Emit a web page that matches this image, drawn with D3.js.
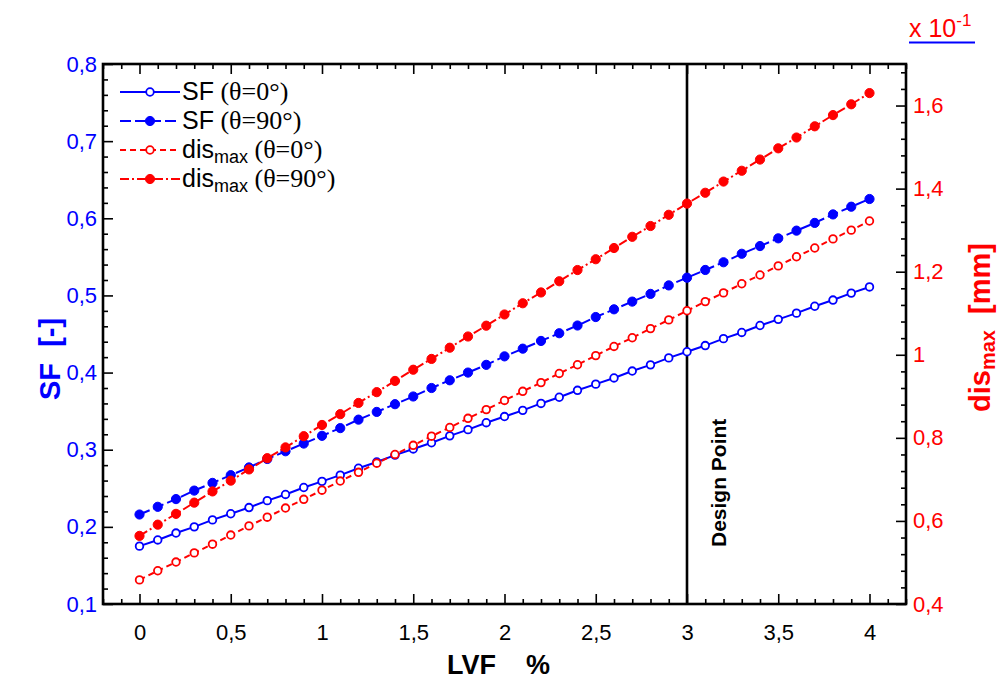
<!DOCTYPE html>
<html>
<head>
<meta charset="utf-8">
<script src="https://cdn.jsdelivr.net/npm/d3@7/dist/d3.min.js"></script>
<style>
  html, body { margin: 0; padding: 0; background: #fff; }
  svg { display: block; }
  text { font-family: "Liberation Sans", Arial, sans-serif; }
</style>
</head>
<body>
<svg id="chart" width="1001" height="682"></svg>
<script>
// LVF values (%)
const lvf = [0,0.1,0.2,0.3,0.4,0.5,0.6,0.7,0.8,0.9,1,1.1,1.2,1.3,1.4,1.5,1.6,1.7,1.8,1.9,2,
             2.1,2.2,2.3,2.4,2.5,2.6,2.7,2.8,2.9,3,3.1,3.2,3.3,3.4,3.5,3.6,3.7,3.8,3.9,4];

// Safety factor, theta = 0°
const sf0 = [0.175,0.183,0.192,0.200,0.209,0.217,0.225,0.234,0.242,0.251,0.259,0.267,0.276,0.284,
             0.293,0.301,0.309,0.318,0.326,0.335,0.343,0.351,0.360,0.368,0.377,0.385,0.393,0.402,
             0.410,0.419,0.427,0.435,0.444,0.452,0.461,0.469,0.477,0.486,0.494,0.503,0.511];
// Safety factor, theta = 90°
const sf90 = [0.216,0.226,0.236,0.247,0.257,0.267,0.277,0.288,0.298,0.308,0.318,0.328,0.339,0.349,
              0.359,0.369,0.380,0.390,0.400,0.410,0.421,0.431,0.441,0.451,0.461,0.472,0.482,0.492,
              0.502,0.513,0.523,0.533,0.543,0.554,0.564,0.574,0.584,0.594,0.605,0.615,0.625];
// Max displacement (x 10^-1 mm), theta = 0°
const dis0 = [0.458,0.480,0.501,0.523,0.544,0.566,0.588,0.609,0.631,0.652,0.674,0.696,0.717,0.739,
              0.760,0.782,0.804,0.825,0.847,0.868,0.890,0.912,0.933,0.955,0.976,0.998,1.020,1.041,
              1.063,1.084,1.106,1.128,1.149,1.171,1.192,1.214,1.236,1.257,1.279,1.300,1.322];
// Max displacement (x 10^-1 mm), theta = 90°
const dis90 = [0.564,0.591,0.617,0.644,0.671,0.697,0.724,0.751,0.777,0.804,0.831,0.857,0.884,0.910,
               0.937,0.964,0.990,1.017,1.044,1.070,1.097,1.124,1.150,1.177,1.204,1.230,1.257,1.284,
               1.310,1.337,1.364,1.390,1.417,1.443,1.470,1.497,1.523,1.550,1.577,1.603,1.630];

// Tick values and labels
const xMajor = [0,0.5,1,1.5,2,2.5,3,3.5,4];
const xMajorLabels = ["0","0,5","1","1,5","2","2,5","3","3,5","4"];
const yLeftMajor = [0.1,0.2,0.3,0.4,0.5,0.6,0.7,0.8];
const yLeftLabels = ["0,1","0,2","0,3","0,4","0,5","0,6","0,7","0,8"];
const yRightMajor = [0.4,0.6,0.8,1.0,1.2,1.4,1.6];
const yRightLabels = ["0,4","0,6","0,8","1","1,2","1,4","1,6"];
const designPoint = 3;

const BLUE = "#0000ff", RED = "#ff0000";
const SERIF = "'Liberation Serif', 'Times New Roman', serif";

const svg = d3.select("#chart");
const L = 103, R = 906, T = 64, B = 604;

const x = d3.scaleLinear().domain([-0.2, 4.2]).range([L, R]);
const yL = d3.scaleLinear().domain([0.1, 0.8]).range([B, T]);
const yR = d3.scaleLinear().domain([0.4, 1.7]).range([B, T]);

const fmt = (vals, labels) => v => labels[vals.findIndex(t => Math.abs(t - v) < 1e-9)];

const xMinor = d3.range(-2, 43).map(i => i / 10).filter(v => !xMajor.some(m => Math.abs(m - v) < 1e-9));
const yLMinor = d3.range(10, 81, 2).map(i => i / 100).filter(v => !yLeftMajor.some(m => Math.abs(m - v) < 1e-9));
const yRMinor = d3.range(40, 171, 4).map(i => i / 100).filter(v => !yRightMajor.some(m => Math.abs(m - v) < 1e-9));

function styleAxis(g, color) {
  g.select(".domain").remove();
  g.selectAll(".tick line").attr("stroke", "#000").attr("stroke-width", 1.6);
  g.selectAll(".tick text").attr("fill", color).style("font-size", "22px")
    .style("font-family", "'Liberation Sans', Arial, sans-serif");
}

// Bottom axis (ticks point inward)
svg.append("g").attr("transform", `translate(0,${B})`)
  .call(d3.axisBottom(x).tickValues(xMajor).tickSizeInner(-10).tickSizeOuter(0).tickPadding(20)
    .tickFormat(fmt(xMajor, xMajorLabels)))
  .call(g => styleAxis(g, "#000"));
svg.append("g").attr("transform", `translate(0,${B})`)
  .call(d3.axisBottom(x).tickValues(xMinor).tickSizeInner(-5).tickSizeOuter(0).tickFormat(""))
  .call(g => styleAxis(g, "#000"));
// Top axis
svg.append("g").attr("transform", `translate(0,${T})`)
  .call(d3.axisTop(x).tickValues(xMajor).tickSizeInner(-10).tickSizeOuter(0).tickFormat(""))
  .call(g => styleAxis(g, "#000"));
svg.append("g").attr("transform", `translate(0,${T})`)
  .call(d3.axisTop(x).tickValues(xMinor).tickSizeInner(-5).tickSizeOuter(0).tickFormat(""))
  .call(g => styleAxis(g, "#000"));
// Left axis (SF)
svg.append("g").attr("transform", `translate(${L},0)`)
  .call(d3.axisLeft(yL).tickValues(yLeftMajor).tickSizeInner(-10).tickSizeOuter(0).tickPadding(6)
    .tickFormat(fmt(yLeftMajor, yLeftLabels)))
  .call(g => styleAxis(g, BLUE));
svg.append("g").attr("transform", `translate(${L},0)`)
  .call(d3.axisLeft(yL).tickValues(yLMinor).tickSizeInner(-5).tickSizeOuter(0).tickFormat(""))
  .call(g => styleAxis(g, BLUE));
// Right axis (dis_max)
svg.append("g").attr("transform", `translate(${R},0)`)
  .call(d3.axisRight(yR).tickValues(yRightMajor).tickSizeInner(-10).tickSizeOuter(0).tickPadding(7)
    .tickFormat(fmt(yRightMajor, yRightLabels)))
  .call(g => styleAxis(g, RED));
svg.append("g").attr("transform", `translate(${R},0)`)
  .call(d3.axisRight(yR).tickValues(yRMinor).tickSizeInner(-5).tickSizeOuter(0).tickFormat(""))
  .call(g => styleAxis(g, RED));

// Frame
svg.append("rect").attr("x", L).attr("y", T).attr("width", R - L).attr("height", B - T)
  .attr("fill", "none").attr("stroke", "#000").attr("stroke-width", 2.6);

// Design point line and label
svg.append("line")
  .attr("x1", x(designPoint)).attr("x2", x(designPoint))
  .attr("y1", T).attr("y2", B)
  .attr("stroke", "#000").attr("stroke-width", 2.6);
svg.append("text")
  .attr("transform", `translate(${x(designPoint) + 39},547) rotate(-90)`)
  .style("font-size", "21px").style("font-weight", "bold").attr("fill", "#000")
  .text("Design Point");

// Series
const series = [
  { vals: sf0,  y: yL, color: BLUE, dash: null,       filled: false },
  { vals: sf90, y: yL, color: BLUE, dash: "11,4",     filled: true  },
  { vals: dis0, y: yR, color: RED,  dash: "6,4",      filled: false },
  { vals: dis90,y: yR, color: RED,  dash: "9,3,2,3",  filled: true  }
];

series.forEach(s => {
  const line = d3.line().x((d, i) => x(lvf[i])).y(d => s.y(d));
  svg.append("path").datum(s.vals)
    .attr("d", line).attr("fill", "none")
    .attr("stroke", s.color).attr("stroke-width", 2)
    .attr("stroke-dasharray", s.dash);
  svg.append("g").selectAll("circle").data(s.vals).join("circle")
    .attr("cx", (d, i) => x(lvf[i])).attr("cy", d => s.y(d))
    .attr("r", s.filled ? 4.6 : 3.8)
    .attr("fill", s.filled ? s.color : "#fff")
    .attr("stroke", s.color).attr("stroke-width", s.filled ? 1 : 1.8);
});

// Legend
const legend = [
  { main: "SF", sub: "", rest: " (θ=0°)",  color: BLUE, dash: null,      filled: false },
  { main: "SF", sub: "", rest: " (θ=90°)", color: BLUE, dash: "11,4",    filled: true  },
  { main: "dis", sub: "max", rest: " (θ=0°)",  color: RED, dash: "6,4",   filled: false },
  { main: "dis", sub: "max", rest: " (θ=90°)", color: RED, dash: "9,3,2,3", filled: true }
];
const lg = svg.append("g");
legend.forEach((d, i) => {
  const yy = 92 + i * 29;
  lg.append("line").attr("x1", 120).attr("x2", 180).attr("y1", yy).attr("y2", yy)
    .attr("stroke", d.color).attr("stroke-width", 2).attr("stroke-dasharray", d.dash);
  lg.append("circle").attr("cx", 150).attr("cy", yy).attr("r", d.filled ? 4.6 : 3.8)
    .attr("fill", d.filled ? d.color : "#fff").attr("stroke", d.color)
    .attr("stroke-width", d.filled ? 1 : 1.8);
  const t = lg.append("text").attr("x", 182).attr("y", yy + 8).attr("fill", "#000")
    .style("font-size", "25px");
  t.append("tspan").text(d.main);
  if (d.sub) {
    t.append("tspan").attr("dy", 5).style("font-size", "18px").text(d.sub);
    t.append("tspan").attr("dy", -5).style("font-family", SERIF).style("font-size", "26px").text(d.rest);
  } else {
    t.append("tspan").style("font-family", SERIF).style("font-size", "26px").text(d.rest);
  }
});

// X axis title
const xt = svg.append("g").style("font-size", "27px").style("font-weight", "bold").attr("fill", "#000");
xt.append("text").attr("x", 447).attr("y", 674).text("LVF");
xt.append("text").attr("x", 526).attr("y", 674).text("%");

// Left axis title
svg.append("text")
  .attr("transform", "translate(60,400) rotate(-90)")
  .attr("xml:space", "preserve")
  .style("font-size", "29px").style("font-weight", "bold").attr("fill", BLUE)
  .text("SF  [-]");

// Right axis title
const rt = svg.append("text")
  .attr("transform", "translate(990,412) rotate(-90)")
  .attr("xml:space", "preserve")
  .style("font-size", "29px").style("font-weight", "bold").attr("fill", RED);
rt.append("tspan").text("dis");
rt.append("tspan").attr("dy", 5).style("font-size", "20px").text("max");
rt.append("tspan").attr("dy", -5).text("  [mm]");

// Multiplier note for right axis
const mult = svg.append("text").attr("x", 909).attr("y", 37).attr("fill", RED)
  .style("font-size", "25px");
mult.append("tspan").text("x 10");
mult.append("tspan").attr("dy", -11).style("font-size", "17px").text("-1");
svg.append("line").attr("x1", 909).attr("x2", 975).attr("y1", 42.5).attr("y2", 42.5)
  .attr("stroke", BLUE).attr("stroke-width", 2);
</script>
</body>
</html>
